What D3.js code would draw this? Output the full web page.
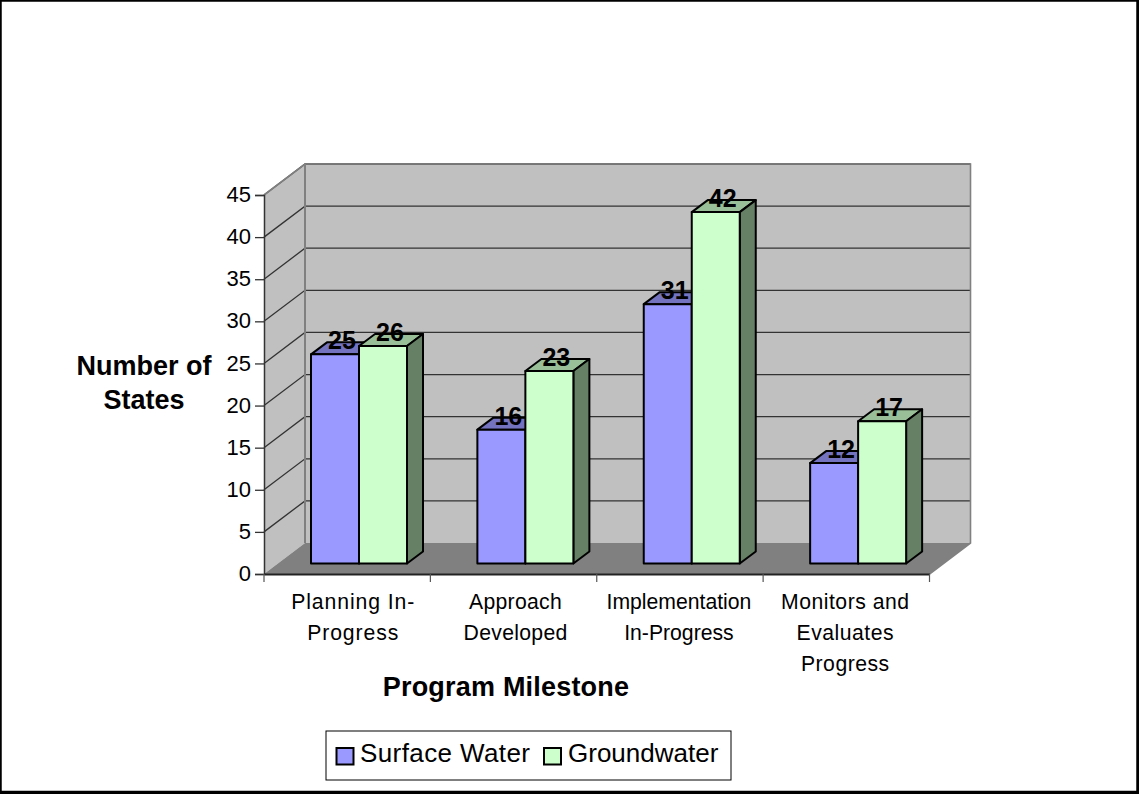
<!DOCTYPE html>
<html>
<head>
<meta charset="utf-8"/>
<title>Program Milestone</title>
<script src="https://d3js.org/d3.v7.min.js"></script>
<style type="text/css">
  html, body { margin: 0; padding: 0; background: #fff; }
  svg { display: block; }
  text { font-family: "Liberation Sans", Arial, sans-serif; fill: #000; }
</style>
</head>
<body>
<div id="chart"></div>
<script type="text/javascript">
var categories = ["Planning In-Progress", "Approach Developed", "Implementation In-Progress", "Monitors and Evaluates Progress"];
var categoryLines = [["Planning In-", "Progress"], ["Approach", "Developed"], ["Implementation", "In-Progress"], ["Monitors and", "Evaluates", "Progress"]];
var seriesNames = ["Surface Water", "Groundwater"];
var surfaceWater = [25, 16, 31, 12];
var groundwater = [26, 23, 42, 17];
var yTicks = [0, 5, 10, 15, 20, 25, 30, 35, 40, 45];

var w = 1139, h = 794;
var frontColors = ["#9999ff", "#ccffcc"];
var topColors = ["#7373bf", "#99bf99"];
var sideColors = ["#4d4d80", "#668066"];

// floor and wall depth of the 3D box
var depthX = 41, depthY = -31;
// depth of one bar
var barDX = 16, barDY = -12;

var x = d3.scaleBand().domain(categories).range([264, 929.5]);
var xInner = d3.scaleBand().domain(seriesNames).range([47, 143]);
var y = d3.scaleLinear().domain([0, 45]).range([574, 195]);
var yBar = d3.scaleLinear().domain([0, 45]).range([563.5, 187]);

var svg = d3.select("#chart").append("svg").attr("width", w).attr("height", h);
svg.append("rect").attr("width", w).attr("height", h).attr("fill", "#fff");

function poly(pts) { return "M" + pts.map(function(p) { return p.join(","); }).join("L") + "Z"; }

var x0 = x.range()[0], x1 = x.range()[1];

// walls
svg.append("path")
  .attr("d", poly([[x0, y(0)], [x0 + depthX, y(0) + depthY], [x0 + depthX, y(45) + depthY], [x0, y(45)]]))
  .attr("fill", "#c0c0c0");
svg.append("path")
  .attr("d", poly([[x0 + depthX, y(0) + depthY], [x1 + depthX, y(0) + depthY], [x1 + depthX, y(45) + depthY], [x0 + depthX, y(45) + depthY]]))
  .attr("fill", "#c0c0c0");
svg.append("path")
  .attr("d", poly([[x0, y(0)], [x1, y(0)], [x1 + depthX, y(0) + depthY], [x0 + depthX, y(0) + depthY]]))
  .attr("fill", "#808080");

// gridlines on side wall and back wall
var grid = svg.append("g");
yTicks.filter(function(d) { return d > 0; }).forEach(function(d) {
  grid.append("path")
    .attr("d", "M" + x0 + "," + y(d) + "L" + (x0 + depthX) + "," + (y(d) + depthY) + "L" + (x1 + depthX) + "," + (y(d) + depthY))
    .attr("fill", "none").attr("stroke", "#333").attr("stroke-width", 1.3);
});

// wall outline
svg.append("path")
  .attr("d", "M" + x0 + "," + y(45) + "L" + (x0 + depthX) + "," + (y(45) + depthY) + "L" + (x1 + depthX) + "," + (y(45) + depthY) + "L" + (x1 + depthX) + "," + (y(0) + depthY) + "L" + x1 + "," + y(0))
  .attr("fill", "none").attr("stroke", "#808080").attr("stroke-width", 1.6);
svg.append("line")
  .attr("x1", x0 + depthX).attr("x2", x0 + depthX).attr("y1", y(45) + depthY).attr("y2", y(0) + depthY)
  .attr("stroke", "#808080").attr("stroke-width", 2);

// bars
var allValues = [surfaceWater, groundwater];
categories.forEach(function(cat, i) {
  seriesNames.forEach(function(name, s) {
    var v = allValues[s][i];
    var bx = x(cat) + xInner(name), bw = xInner.bandwidth();
    var by = yBar(v), bb = yBar(0);
    var g = svg.append("g").attr("stroke", "#000").attr("stroke-width", 2).attr("stroke-linejoin", "round");
    g.append("path")
      .attr("d", poly([[bx, by], [bx + barDX, by + barDY], [bx + bw + barDX, by + barDY], [bx + bw, by]]))
      .attr("fill", topColors[s]);
    g.append("path")
      .attr("d", poly([[bx + bw, by], [bx + bw + barDX, by + barDY], [bx + bw + barDX, bb + barDY], [bx + bw, bb]]))
      .attr("fill", sideColors[s]);
    g.append("rect")
      .attr("x", bx).attr("y", by).attr("width", bw).attr("height", bb - by)
      .attr("fill", frontColors[s]);
  });
});

// data labels
categories.forEach(function(cat, i) {
  seriesNames.forEach(function(name, s) {
    var v = allValues[s][i];
    svg.append("text")
      .attr("x", x(cat) + xInner(name) + xInner.bandwidth() / 2 + 7)
      .attr("y", yBar(v) - 5)
      .attr("text-anchor", "middle")
      .attr("font-size", 25).attr("font-weight", "bold")
      .text(v);
  });
});

// axes
var yAxis = d3.axisLeft(y).tickValues(yTicks).tickSize(9).tickPadding(4);
var yG = svg.append("g").attr("transform", "translate(" + x0 + ",0)").call(yAxis);
yG.selectAll("text").attr("font-size", 22).attr("font-family", "Liberation Sans").attr("dy", "0.3em");
yG.select(".domain").attr("stroke", "#333").attr("stroke-width", 1.5);
yG.selectAll(".tick line").attr("stroke", "#333").attr("stroke-width", 1.3);

var xAxis = d3.axisBottom(x).tickFormat("").tickSize(0);
var xG = svg.append("g").attr("transform", "translate(0," + y(0) + ")").call(xAxis);
xG.select(".domain").attr("stroke", "#222").attr("stroke-width", 2);
xG.selectAll(".tick").remove();
x.domain().map(function(c) { return x(c); }).concat([x1]).forEach(function(px) {
  xG.append("line").attr("x1", px).attr("x2", px).attr("y1", 0).attr("y2", 8)
    .attr("stroke", "#555").attr("stroke-width", 1.2);
});

// category labels
var labelNudge = [6, 2, -1, -1];
var labelSpacing = [0.9, 0.3, 0, 0.5];
categoryLines.forEach(function(lines, i) {
  var t = svg.append("text").attr("text-anchor", "middle").attr("font-size", 21.2).attr("letter-spacing", labelSpacing[i]);
  lines.forEach(function(line, j) {
    t.append("tspan")
      .attr("x", x(categories[i]) + x.bandwidth() / 2 + labelNudge[i])
      .attr("y", 609 + j * 31)
      .text(line);
  });
});

// axis titles
svg.append("text").attr("x", 506).attr("y", 696).attr("text-anchor", "middle")
  .attr("font-size", 27).attr("font-weight", "bold").attr("letter-spacing", 0.2).text("Program Milestone");
svg.append("text").attr("x", 144).attr("y", 375).attr("text-anchor", "middle")
  .attr("font-size", 27).attr("font-weight", "bold").text("Number of");
svg.append("text").attr("x", 144).attr("y", 409).attr("text-anchor", "middle")
  .attr("font-size", 27).attr("font-weight", "bold").text("States");

// legend
svg.append("rect").attr("x", 326).attr("y", 731).attr("width", 405).attr("height", 49)
  .attr("fill", "#fff").attr("stroke", "#000").attr("stroke-width", 1);
var legendSwatchX = [336.5, 544], legendTextX = [360, 568], legendSpacing = [0.4, 0];
seriesNames.forEach(function(name, s) {
  svg.append("rect").attr("x", legendSwatchX[s]).attr("y", 748).attr("width", 17).attr("height", 16.5)
    .attr("fill", frontColors[s]).attr("stroke", "#000").attr("stroke-width", 2);
  svg.append("text").attr("x", legendTextX[s]).attr("y", 762).attr("font-size", 26).attr("letter-spacing", legendSpacing[s]).text(name);
});

// outer frame
svg.append("rect").attr("x", 0).attr("y", 0).attr("width", w - 1).attr("height", h - 1.5)
  .attr("fill", "none").attr("stroke", "#000").attr("stroke-width", 3.5);
</script>
</body>
</html>
